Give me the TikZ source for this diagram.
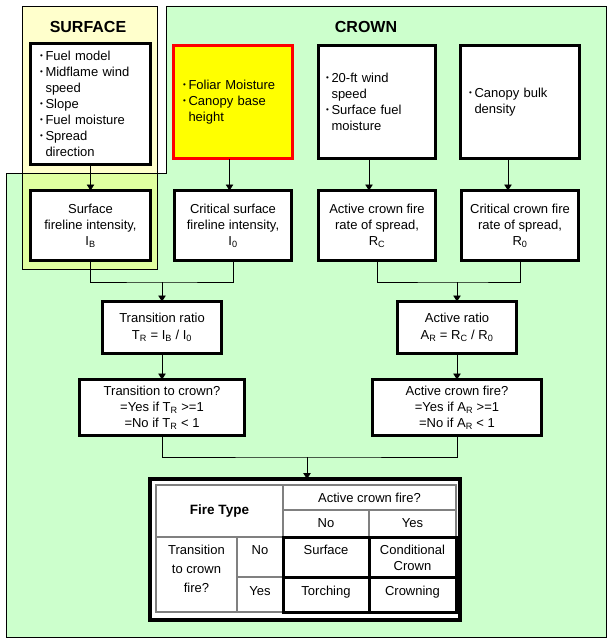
\documentclass[tikz,border=0pt]{standalone}
\usepackage{fontspec}
\setmainfont{Liberation Sans}
\usetikzlibrary{arrows.meta}

\definecolor{surfbg}{HTML}{FFFFCC}
\definecolor{crownbg}{HTML}{CCFFCC}
\definecolor{overlapbg}{HTML}{E0FFA0}
\definecolor{foliarfill}{HTML}{FFFF00}
\definecolor{foliarline}{HTML}{FF0000}
\definecolor{gridgray}{HTML}{808080}

% small bullet with hanging indent for the input lists
\newcommand{\bul}{\makebox[5.5pt][l]{\raisebox{1.8pt}{\fontsize{8}{8}\selectfont\textbullet}}}
\newcommand{\hang}{\hspace*{5.5pt}}

\begin{document}
\begin{tikzpicture}[x=1pt,y=-1pt,
  txt/.style={font=\fontsize{13}{16}\selectfont},
  box/.style={draw=black, line width=3pt, fill=white, inner sep=0pt, outer sep=0pt, align=center, txt},
  listbox/.style={box, align=left, inner ysep=0pt},
  conn/.style={draw=black, line width=0.9pt},
  arr/.style={conn, -{Triangle[length=6pt,width=7.5pt]}},
  title/.style={font=\fontsize{16}{18}\selectfont\bfseries},
  cell/.style={txt, inner sep=0pt, align=center},
  gridline/.style={draw=gridgray, line width=1.1pt},
  blockline/.style={draw=black, line width=3pt},
]
\useasboundingbox (0,0) rectangle (612,642);
\fill[white] (0,0) rectangle (612,642);

% background panels
\fill[crownbg] (6,173) -- (166,173) -- (166,6) -- (606,6) -- (606,637) -- (6,637) -- cycle;
\fill[surfbg] (22,6) rectangle (157,269);
\fill[overlapbg] (22,173) rectangle (157,269);
\draw[line width=0.8pt] (6,173) -- (166,173) -- (166,6) -- (606,6) -- (606,637) -- (6,637) -- cycle;
\draw[line width=0.8pt] (22,6) rectangle (157,269);

\node[title] (surf) at (88,27) {SURFACE};
\node[title] (crown) at (366,27) {CROWN};

% inputs
\node[listbox, minimum width=120pt, minimum height=121pt, text width=101pt, inner xsep=9.5pt] (b1) at (90.5,104)
  {\bul Fuel model\\\bul Midflame wind\\\hang speed\\\bul Slope\\\bul Fuel moisture\\\bul Spread\\\hang direction};
\node[listbox, draw=foliarline, fill=foliarfill, minimum width=119pt, minimum height=113pt, text width=100pt, inner xsep=9.5pt] (b2) at (233,102)
  {\bul Foliar Moisture\\\bul Canopy base\\\hang height};
\node[listbox, minimum width=117pt, minimum height=113pt, text width=102pt, inner xsep=7.5pt] (b3) at (377,102)
  {\bul 20-ft wind\\\hang speed\\\bul Surface fuel\\\hang moisture};
\node[listbox, minimum width=119pt, minimum height=113pt, text width=102pt, inner xsep=8.5pt] (b4) at (520,102)
  {\bul Canopy bulk\\\hang density};

% intensities and spread rates
\node[box, minimum width=120pt, minimum height=70pt] (r1) at (90.5,225.5)
  {Surface\\fireline intensity,\\I\textsubscript{B}};
\node[box, minimum width=117pt, minimum height=70pt] (r2) at (233,225.5)
  {Critical surface\\fireline intensity,\\I\textsubscript{0}};
\node[box, minimum width=117pt, minimum height=70pt] (r3) at (377,225.5)
  {Active crown fire\\rate of spread,\\R\textsubscript{C}};
\node[box, minimum width=117pt, minimum height=70pt] (r4) at (520,225.5)
  {Critical crown fire\\rate of spread,\\R\textsubscript{0}};

% ratios
\node[box, font=\fontsize{13}{17}\selectfont, minimum width=119pt, minimum height=52pt] (tr) at (162,327.5)
  {Transition ratio\\T\textsubscript{R} = I\textsubscript{B} / I\textsubscript{0}};
\node[box, font=\fontsize{13}{17}\selectfont, minimum width=119pt, minimum height=52pt] (ar) at (457,327.5)
  {Active ratio\\A\textsubscript{R} = R\textsubscript{C} / R\textsubscript{0}};

% decisions
\node[box, minimum width=165pt, minimum height=56pt] (tc) at (162,407.5)
  {Transition to crown?\\=Yes if T\textsubscript{R} >=1\\=No if T\textsubscript{R} < 1};
\node[box, minimum width=169pt, minimum height=56pt] (ac) at (457,407.5)
  {Active crown fire?\\=Yes if A\textsubscript{R} >=1\\=No if A\textsubscript{R} < 1};

% fire type table
\node[draw=black, line width=4pt, fill=white, minimum width=310pt, minimum height=141pt, inner sep=0pt, outer sep=0pt] (tbl) at (305,549.5) {};
\draw[gridline] (156,485) rectangle (456,612);
\draw[gridline] (283,485) -- (283,612);
\draw[gridline] (237,537) -- (237,612);
\draw[gridline] (369,510) -- (369,612);
\draw[gridline] (283,510) -- (456,510);
\draw[gridline] (156,537) -- (456,537);
\draw[gridline] (237,577) -- (456,577);
\draw[blockline] (283,537) rectangle (456,612);
\draw[blockline] (369,537) -- (369,612);
\draw[blockline] (283,577) -- (456,577);

\node[cell, font=\fontsize{13.5}{16}\selectfont\bfseries] (hft) at (219.5,511) {Fire Type};
\node[cell] (hac) at (369.5,497.5) {Active crown fire?};
\node[cell] (hno) at (326,523.5) {No};
\node[cell] (hyes) at (412.5,523.5) {Yes};
\node[cell, font=\fontsize{13}{19}\selectfont] (htc) at (196.5,569) {Transition\\to crown\\fire?};
\node[cell] (rno) at (260,550) {No};
\node[cell] (ryes) at (260,591) {Yes};
\node[cell] (csurf) at (326,550) {Surface};
\node[cell] (ccond) at (412.5,558) {Conditional\\Crown};
\node[cell] (ctorch) at (326,592) {Torching};
\node[cell] (ccrown) at (412.5,592) {Crowning};

% connectors
\draw[arr] (b1.south) -- (r1.north);
\draw[arr] ([xshift=-3.5pt]b2.south) -- ([xshift=-3.5pt]r2.north);
\draw[arr] ([xshift=-8pt]b3.south) -- ([xshift=-8pt]r3.north);
\draw[arr] ([xshift=-12pt]b4.south) -- ([xshift=-12pt]r4.north);

\coordinate (jl) at (162,282);
\coordinate (jr) at (457,282);
\coordinate (jb) at (307,457);
\draw[conn] (r1.south) |- (jl) -| (r2.south);
\draw[conn] (r3.south) |- (jr) -| (r4.south);
\draw[arr] (jl) -- (tr.north);
\draw[arr] (jr) -- (ar.north);
\draw[arr] (tr.south) -- (tc.north);
\draw[arr] (ar.south) -- (ac.north);
\draw[conn] (tc.south) |- (jb) -| (ac.south);
\draw[arr] (jb) -- (tbl.north -| jb);
\end{tikzpicture}
\end{document}
